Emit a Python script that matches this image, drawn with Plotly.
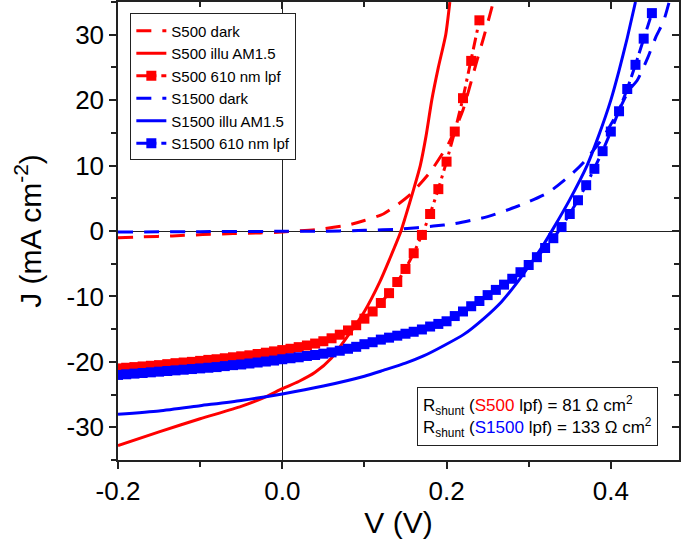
import numpy as np
import plotly.graph_objects as go

# ---- data (V in volts, J in mA cm^-2) ----
s500_dark_v = [-0.2, -0.17, -0.134, -0.097, -0.06, -0.027, 0.0, 0.04, 0.08, 0.10, 0.123, 0.14, 0.156, 0.18, 0.203, 0.22, 0.236, 0.245, 0.252, 0.257]
s500_dark_j = [-1.05, -0.9, -0.75, -0.55, -0.4, -0.3, -0.15, 0.2, 0.9, 1.6, 2.6, 4.0, 5.6, 9.0, 13.5, 18.5, 25.6, 29.5, 32.7, 35.0]

s500_illu_v = [-0.2, -0.15, -0.1, -0.05, -0.023, 0.0, 0.02, 0.04, 0.06, 0.08, 0.10, 0.119, 0.131, 0.144, 0.15, 0.16, 0.168, 0.175, 0.182, 0.19, 0.199, 0.204]
s500_illu_j = [-32.8, -30.7, -28.7, -26.8, -25.5, -24.1, -23.0, -21.6, -19.4, -16.0, -12.3, -7.7, -4.2, -0.2, 2.2, 6.4, 10.0, 14.5, 20.0, 25.0, 30.0, 35.0]

s500_lpf_v = np.round(np.arange(-0.20, 0.2401, 0.01), 2)
s500_lpf_j = [-21.0, -20.9, -20.8, -20.7, -20.6, -20.5, -20.35, -20.2, -20.1, -20.0,
              -19.85, -19.7, -19.6, -19.45, -19.3, -19.15, -19.0, -18.8, -18.6, -18.4,
              -18.2, -18.0, -17.75, -17.5, -17.2, -16.85, -16.4, -15.85, -15.2, -14.4,
              -13.4, -12.3, -11.0, -9.5, -7.8, -5.8, -3.4, -0.6, 2.6, 6.4,
              10.6, 15.2, 20.3, 26.0, 32.2]

s1500_dark_v = [-0.2, -0.1, 0.0, 0.04, 0.1, 0.145, 0.184, 0.209, 0.25, 0.289, 0.324, 0.354, 0.367, 0.39, 0.41, 0.422, 0.432, 0.445, 0.455, 0.464, 0.471]
s1500_dark_j = [-0.15, -0.1, -0.05, -0.05, 0.1, 0.3, 0.75, 1.1, 2.2, 3.9, 5.9, 8.9, 10.5, 14.2, 18.5, 21.5, 23.0, 26.5, 29.7, 32.0, 35.0]

s1500_illu_v = [-0.2, -0.15, -0.1, -0.05, 0.0, 0.05, 0.1, 0.123, 0.15, 0.172, 0.197, 0.221, 0.246, 0.267, 0.287, 0.304, 0.318, 0.33, 0.35, 0.371, 0.385, 0.40, 0.41, 0.42, 0.43]
s1500_illu_j = [-28.0, -27.5, -26.7, -25.9, -24.9, -23.7, -22.2, -21.3, -20.2, -19.1, -17.5, -15.8, -13.3, -10.8, -7.7, -4.7, -2.1, 0.4, 4.8, 10.0, 14.5, 20.0, 24.5, 29.5, 35.0]

s1500_lpf_v = np.round(np.arange(-0.20, 0.4501, 0.01), 2)
s1500_lpf_j = [-22.0, -21.9, -21.8, -21.7, -21.6, -21.5, -21.4, -21.3, -21.2, -21.1,
               -21.0, -20.9, -20.8, -20.65, -20.5, -20.4, -20.25, -20.1, -19.95, -19.8,
               -19.6, -19.45, -19.3, -19.1, -18.95, -18.75, -18.55, -18.3, -18.0, -17.7,
               -17.3, -17.0, -16.6, -16.3, -16.0, -15.7, -15.4, -15.05, -14.6, -14.2,
               -13.8, -13.0, -12.3, -11.5, -10.7, -9.8, -9.0, -8.2, -7.3, -6.3,
               -5.2, -4.0, -2.6, -1.1, 0.6, 2.6, 4.7, 7.0, 9.5, 12.2,
               15.2, 18.3, 21.7, 25.4, 29.4, 33.3]

# tick labels (plain hyphen, as in the original)
x_tick_vals = [-0.2, 0.0, 0.2, 0.4]
x_tick_text = ['-0.2', '0.0', '0.2', '0.4']
y_tick_vals = [-30, -20, -10, 0, 10, 20, 30]
y_tick_text = ['-30', '-20', '-10', '0', '10', '20', '30']

RED = '#FF0000'
BLUE = '#0000FF'
DASH = '15px,11px'
DASHDOT = '12px,5px,3px,5px'
FONT = 'Liberation Sans, Arial, sans-serif'

fig = go.Figure()
fig.add_trace(go.Scatter(x=s500_dark_v, y=s500_dark_j, mode='lines', name='S500 dark',
                         line=dict(color=RED, width=3, dash=DASH, shape='spline', smoothing=0.6)))
fig.add_trace(go.Scatter(x=s500_illu_v, y=s500_illu_j, mode='lines', name='S500 illu AM1.5',
                         line=dict(color=RED, width=3, shape='spline', smoothing=0.6)))
fig.add_trace(go.Scatter(x=s500_lpf_v, y=s500_lpf_j, mode='lines+markers', name='S500 610 nm lpf',
                         line=dict(color=RED, width=3, dash=DASHDOT),
                         marker=dict(symbol='square', size=10, color=RED)))
fig.add_trace(go.Scatter(x=s1500_dark_v, y=s1500_dark_j, mode='lines', name='S1500 dark',
                         line=dict(color=BLUE, width=3, dash=DASH, shape='spline', smoothing=0.6)))
fig.add_trace(go.Scatter(x=s1500_illu_v, y=s1500_illu_j, mode='lines', name='S1500 illu AM1.5',
                         line=dict(color=BLUE, width=3, shape='spline', smoothing=0.6)))
fig.add_trace(go.Scatter(x=s1500_lpf_v, y=s1500_lpf_j, mode='lines+markers', name='S1500 610 nm lpf',
                         line=dict(color=BLUE, width=3, dash=DASHDOT),
                         marker=dict(symbol='square', size=10, color=BLUE)))
# empty trace so the mirrored top/right axes get drawn
fig.add_trace(go.Scatter(x=[], y=[], xaxis='x2', yaxis='y2', showlegend=False, hoverinfo='skip'))

x_range = [-0.2, 0.483]
y_range = [-35, 35]

axis_common = dict(showgrid=False, showline=True, linecolor='#222', linewidth=1.5,
                   tickcolor='#222', tickwidth=1.5, ticklen=7, automargin=False)

fig.update_layout(
    width=685, height=547,
    margin=dict(l=118, r=6, t=2, b=87),
    plot_bgcolor='white', paper_bgcolor='white',
    font=dict(family=FONT, size=26, color='black'),
    xaxis=dict(range=x_range, tickmode='array', tickvals=x_tick_vals, ticktext=x_tick_text, ticks='outside',
               minor=dict(tickmode='linear', tick0=0, dtick=0.1, ticks='outside', ticklen=5, tickcolor='#222', tickwidth=1.5),
               zeroline=True, zerolinecolor='#222', zerolinewidth=1.2,
               title=dict(text='V (V)', font=dict(size=30), standoff=4), **axis_common),
    yaxis=dict(range=y_range, tickmode='array', tickvals=y_tick_vals, ticktext=y_tick_text, ticks='outside',
               minor=dict(tickmode='linear', tick0=0, dtick=5, ticks='outside', ticklen=5, tickcolor='#222', tickwidth=1.5),
               zeroline=True, zerolinecolor='#222', zerolinewidth=1.2,
               title=dict(text='J (mA cm<sup>-2</sup>)', font=dict(size=30), standoff=16), **axis_common),
    xaxis2=dict(overlaying='x', side='top', matches='x', range=x_range, tickmode='array', tickvals=x_tick_vals,
                ticks='inside', showticklabels=False,
                minor=dict(tickmode='linear', tick0=0, dtick=0.1, ticks='inside', ticklen=5, tickcolor='#222', tickwidth=1.5),
                zeroline=False, **axis_common),
    yaxis2=dict(overlaying='y', side='right', matches='y', range=y_range, tickmode='array', tickvals=y_tick_vals,
                ticks='inside', showticklabels=False,
                minor=dict(tickmode='linear', tick0=0, dtick=5, ticks='inside', ticklen=5, tickcolor='#222', tickwidth=1.5),
                zeroline=False, **axis_common),
    legend=dict(x=0.022, y=0.975, xanchor='left', yanchor='top',
                bgcolor='white', bordercolor='#222', borderwidth=1,
                font=dict(size=15), tracegroupgap=0),
    showlegend=True,
)

fig.add_annotation(
    xref='paper', yref='paper', x=0.963, y=0.03, xanchor='right', yanchor='bottom',
    text=("R<sub>shunt</sub> (<span style='color:#FF0000'>S500</span> lpf) = 81 \u03a9 cm<sup>2</sup><br>"
          "R<sub>shunt</sub> (<span style='color:#0000FF'>S1500</span> lpf) = 133 \u03a9 cm<sup>2</sup>"),
    align='left', showarrow=False, font=dict(size=17, color='black'),
    bordercolor='#222', borderwidth=1, borderpad=5, bgcolor='white')

# drop the browser's default 8px body margin so the figure sits at the window's corner
fig.write_html("out.html", config={'displayModeBar': False},
               post_script="document.body.style.margin='0';")
